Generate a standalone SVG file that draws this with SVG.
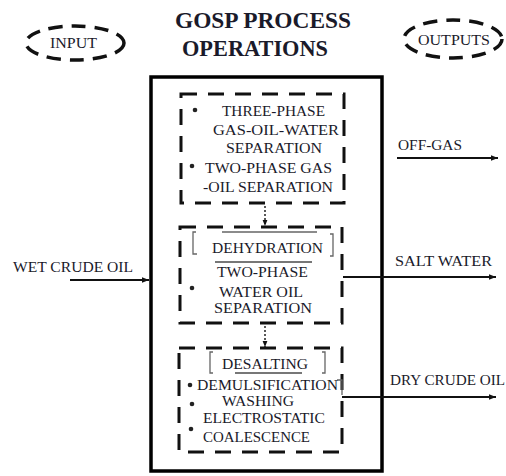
<svg xmlns="http://www.w3.org/2000/svg" width="506" height="476" viewBox="0 0 506 476">
<style>
.t{font-family:"Liberation Serif","DejaVu Serif","Times New Roman",serif;font-size:15px;fill:#1a1a2a}
.ti{font-family:"Liberation Serif","DejaVu Serif","Times New Roman",serif;font-size:23px;font-weight:bold;fill:#1a1a2a}
.dash{fill:none;stroke:#111;stroke-width:3;stroke-dasharray:16 11}
.ell{fill:none;stroke:#111;stroke-width:3.5;stroke-dasharray:14 9}
.thin{fill:none;stroke:#666;stroke-width:1.3}
.ul{fill:none;stroke:#777;stroke-width:2}
.arr{fill:none;stroke:#111;stroke-width:2}
.dot{fill:none;stroke:#222;stroke-width:1.5;stroke-dasharray:2 2}
.b{fill:#222}
</style>
<defs>
<marker id="ah" viewBox="0 0 10 10" refX="10" refY="5" markerWidth="7" markerHeight="7" markerUnits="userSpaceOnUse" orient="auto"><path d="M0,1 L10,5 L0,9 Z" fill="#111"/></marker>
<marker id="ahs" viewBox="0 0 10 10" refX="10" refY="5" markerWidth="6" markerHeight="6" markerUnits="userSpaceOnUse" orient="auto"><path d="M0,1 L10,5 L0,9 Z" fill="#111"/></marker>
</defs>

<g id="title">
<text class="ti" x="263" y="28" text-anchor="middle" textLength="176" lengthAdjust="spacingAndGlyphs">GOSP PROCESS</text>
<text class="ti" x="255" y="56" text-anchor="middle" textLength="146" lengthAdjust="spacingAndGlyphs">OPERATIONS</text>
</g>

<g id="input">
<ellipse class="ell" cx="75" cy="43" rx="49" ry="17"/>
<text class="t" x="73.5" y="48" text-anchor="middle" font-size="13" textLength="47" lengthAdjust="spacingAndGlyphs">INPUT</text>
</g>

<g id="outputs">
<ellipse class="ell" cx="453" cy="39" rx="49" ry="19"/>
<text class="t" x="454" y="45" text-anchor="middle" font-size="13" textLength="72" lengthAdjust="spacingAndGlyphs">OUTPUTS</text>
</g>

<g id="main-box">
<rect x="151" y="77" width="231" height="394" fill="none" stroke="#000" stroke-width="3.5"/>
</g>

<g id="separation">
<rect class="dash" x="181" y="94" width="163" height="109"/>
<circle class="b" cx="195" cy="110" r="2.3"/>
<circle class="b" cx="192" cy="166" r="2.3"/>
<text class="t" x="273.5" y="116" text-anchor="middle" textLength="103" lengthAdjust="spacingAndGlyphs">THREE-PHASE</text>
<text class="t" x="276" y="135" text-anchor="middle" textLength="126" lengthAdjust="spacingAndGlyphs">GAS-OIL-WATER</text>
<text class="t" x="274" y="153" text-anchor="middle" textLength="96" lengthAdjust="spacingAndGlyphs">SEPARATION</text>
<text class="t" x="268.5" y="173" text-anchor="middle" textLength="127" lengthAdjust="spacingAndGlyphs">TWO-PHASE GAS</text>
<text class="t" x="268" y="192" text-anchor="middle" textLength="130" lengthAdjust="spacingAndGlyphs">-OIL SEPARATION</text>
</g>

<g id="dehydration">
<rect class="dash" x="180" y="227" width="162" height="96"/>
<path class="thin" d="M222,232 H317 M196,232 H193 V254 H197 M330,234 H333 V256 H330"/>
<path class="ul" d="M215,262 H312"/>
<circle class="b" cx="192" cy="288" r="2.3"/>
<text class="t" x="267.5" y="253" text-anchor="middle" textLength="111" lengthAdjust="spacingAndGlyphs">DEHYDRATION</text>
<text class="t" x="262.5" y="277" text-anchor="middle" textLength="91" lengthAdjust="spacingAndGlyphs">TWO-PHASE</text>
<text class="t" x="261" y="297" text-anchor="middle" textLength="84" lengthAdjust="spacingAndGlyphs">WATER OIL</text>
<text class="t" x="263" y="313" text-anchor="middle" textLength="98" lengthAdjust="spacingAndGlyphs">SEPARATION</text>
</g>

<g id="desalting">
<rect class="dash" x="179" y="348" width="163" height="104"/>
<path class="thin" d="M213,352 H210 V373 H213 M322,352 H325 V373 H322 M337,380 H342 V395"/>
<path class="ul" d="M235,373 H302"/>
<circle class="b" cx="190" cy="385" r="2.3"/>
<circle class="b" cx="192" cy="404" r="2.3"/>
<circle class="b" cx="191" cy="429" r="2.3"/>
<text class="t" x="265" y="369" text-anchor="middle" textLength="86" lengthAdjust="spacingAndGlyphs">DESALTING</text>
<text class="t" x="267.5" y="390" text-anchor="middle" font-size="13" textLength="141" lengthAdjust="spacingAndGlyphs">DEMULSIFICATION</text>
<text class="t" x="258" y="406" text-anchor="middle" font-size="13" textLength="72" lengthAdjust="spacingAndGlyphs">WASHING</text>
<text class="t" x="264" y="423" text-anchor="middle" textLength="122" lengthAdjust="spacingAndGlyphs">ELECTROSTATIC</text>
<text class="t" x="256.5" y="442" text-anchor="middle" textLength="107" lengthAdjust="spacingAndGlyphs">COALESCENCE</text>
</g>

<g id="labels">
<text class="t" x="73" y="272" text-anchor="middle" textLength="120" lengthAdjust="spacingAndGlyphs">WET CRUDE OIL</text>
<text class="t" x="430" y="150" text-anchor="middle" textLength="64" lengthAdjust="spacingAndGlyphs">OFF-GAS</text>
<text class="t" x="443.5" y="266" text-anchor="middle" textLength="97" lengthAdjust="spacingAndGlyphs">SALT WATER</text>
<text class="t" x="447.5" y="385" text-anchor="middle" textLength="115" lengthAdjust="spacingAndGlyphs">DRY CRUDE OIL</text>
</g>

<g id="connectors">
<line class="arr" x1="70" y1="280" x2="149" y2="280" marker-end="url(#ah)"/>
<line class="arr" x1="397" y1="158" x2="498" y2="158" marker-end="url(#ah)"/>
<line class="arr" x1="343" y1="277" x2="496" y2="277" marker-end="url(#ah)"/>
<line class="arr" x1="342" y1="397" x2="496" y2="397" marker-end="url(#ah)"/>
<line class="dot" x1="265" y1="206" x2="265" y2="226" marker-end="url(#ahs)"/>
<line class="dot" x1="265" y1="326" x2="265" y2="347" marker-end="url(#ahs)"/>
</g>
</svg>
